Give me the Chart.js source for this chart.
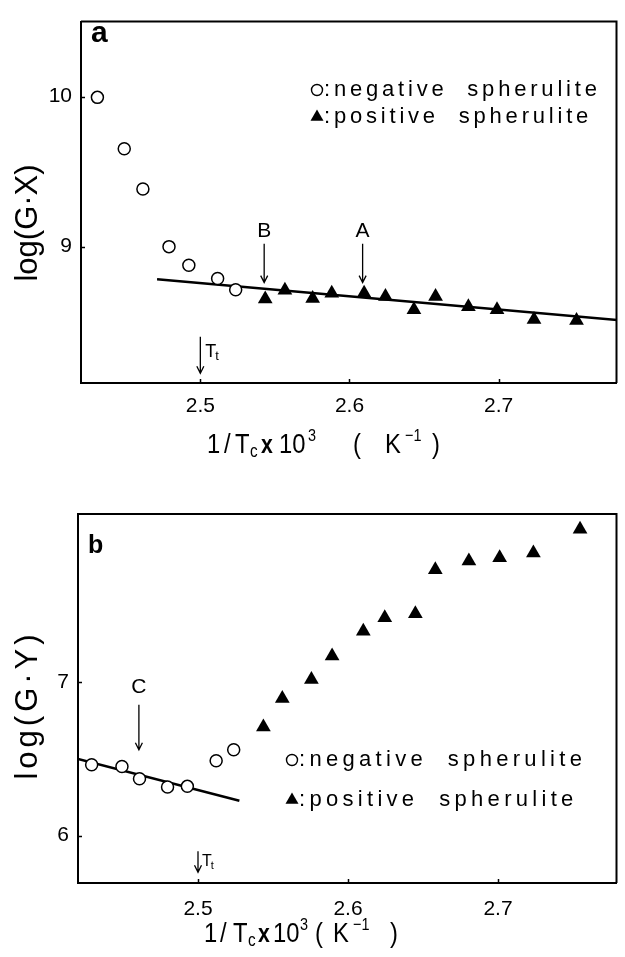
<!DOCTYPE html>
<html>
<head>
<meta charset="utf-8">
<script src="https://cdn.jsdelivr.net/npm/chart.js@4.4.0/dist/chart.umd.min.js"></script>
<style>
  html, body { margin: 0; padding: 0; background: #fff; }
  #wrap { position: relative; width: 625px; height: 957px; }
  canvas { position: absolute; left: 0; }
  #chartA { top: 0; }
  #chartB { top: 478px; }
</style>
</head>
<body>
<div id="wrap">
  <canvas id="chartA" width="625" height="478"></canvas>
  <canvas id="chartB" width="625" height="479"></canvas>
</div>
<script>
// shared x ticks (1/Tc x 10^3)
const xTicks = [2.5, 2.6, 2.7];

// panel a : log(G·X)
const negAx = [2.431, 2.449, 2.4615, 2.479, 2.4923, 2.5116, 2.5237];
const negAy = [9.995, 9.652, 9.384, 9.0, 8.876, 8.787, 8.713];
const posAx = [2.5435, 2.5567, 2.5753, 2.5881, 2.6098, 2.6241, 2.6432, 2.6577, 2.6797, 2.6989, 2.7237, 2.7522];
const posAy = [8.651, 8.71, 8.655, 8.69, 8.69, 8.668, 8.579, 8.668, 8.599, 8.579, 8.515, 8.508];
const fitAx = [2.471, 2.78];
const fitAy = [8.783, 8.51];
const yTicksA = [9, 10];

// panel b : log(G·Y)
const negBx = [2.4291, 2.4493, 2.461, 2.4797, 2.4929, 2.5121, 2.5238];
const negBy = [6.463, 6.452, 6.372, 6.318, 6.322, 6.489, 6.561];
const posBx = [2.5436, 2.5562, 2.5756, 2.5894, 2.6102, 2.6245, 2.6449, 2.6582, 2.6806, 2.7011, 2.7236, 2.7547];
const posBy = [6.71, 6.895, 7.019, 7.173, 7.334, 7.423, 7.449, 7.736, 7.793, 7.814, 7.845, 8.0];
const fitBx = [2.42, 2.5276];
const fitBy = [6.5, 6.228];
const yTicksB = [6, 7];

const FONT = "'Liberation Sans', Arial, sans-serif";

function pts(xs, ys) {
  return xs.map((x, i) => ({ x, y: ys[i] }));
}

function drawArrow(ctx, x, y1, y2) {
  ctx.beginPath();
  ctx.moveTo(x, y1);
  ctx.lineTo(x, y2);
  ctx.moveTo(x - 3.5, y2 - 7);
  ctx.lineTo(x, y2);
  ctx.lineTo(x + 3.5, y2 - 7);
  ctx.stroke();
}

function drawMarker(ctx, kind, x, y) {
  ctx.beginPath();
  if (kind === "circle") {
    ctx.arc(x, y, 5.5, 0, Math.PI * 2);
    ctx.fillStyle = "#fff";
    ctx.fill();
    ctx.lineWidth = 1.4;
    ctx.stroke();
  } else {
    const r = 7.5;
    ctx.moveTo(x, y - r);
    ctx.lineTo(x + r * 0.866, y + r / 2);
    ctx.lineTo(x - r * 0.866, y + r / 2);
    ctx.closePath();
    ctx.fillStyle = "#000";
    ctx.fill();
  }
}

// draw the x title piece by piece (sub/superscripts), slightly condensed
function drawXTitle(ctx, x0, base, pieces) {
  pieces.forEach(([txt, dx, size, dy, bold]) => {
    ctx.save();
    ctx.translate(x0 + dx, base + dy);
    ctx.scale(0.85, 1);
    ctx.font = (bold ? "bold " : "") + size + "px " + FONT;
    ctx.letterSpacing = "0px";
    ctx.textAlign = "left";
    ctx.textBaseline = "alphabetic";
    ctx.fillText(txt, 0, 0);
    ctx.restore();
  });
}

const decor = {
  id: "decor",
  afterDraw(chart, args, o) {
    const ctx = chart.ctx;
    const { left, right, top, bottom } = chart.chartArea;
    const xs = chart.scales.x, ys = chart.scales.y;
    ctx.save();
    ctx.strokeStyle = "#000";
    ctx.fillStyle = "#000";

    // frame top / right
    ctx.lineWidth = 2;
    ctx.beginPath();
    ctx.moveTo(left, top);
    ctx.lineTo(right, top);
    ctx.lineTo(right, bottom);
    ctx.stroke();

    // inward ticks
    ctx.lineWidth = 1.5;
    ctx.beginPath();
    xTicks.forEach(v => {
      const px = Math.round(xs.getPixelForValue(v)) + 0.5;
      ctx.moveTo(px, bottom);
      ctx.lineTo(px, bottom - 4);
    });
    o.yTicks.forEach(v => {
      const py = Math.round(ys.getPixelForValue(v)) + 0.5;
      ctx.moveTo(left, py);
      ctx.lineTo(left + 4, py);
    });
    ctx.stroke();

    // panel letter
    ctx.font = o.letterFont;
    ctx.textAlign = "left";
    ctx.textBaseline = "alphabetic";
    ctx.fillText(o.letter, o.letterPos[0], o.letterPos[1]);

    // y title
    ctx.save();
    ctx.translate(o.yTitlePos[0], o.yTitlePos[1]);
    ctx.rotate(-Math.PI / 2);
    ctx.font = "31px " + FONT;
    ctx.letterSpacing = o.yTitleSpacing + "px";
    ctx.textAlign = "center";
    ctx.textBaseline = "middle";
    ctx.fillText(o.yTitle, 0, 0);
    ctx.restore();

    // x title
    drawXTitle(ctx, o.xTitlePos[0], o.xTitlePos[1], o.xTitlePieces);

    // arrows with labels
    ctx.lineWidth = 1.3;
    o.arrows.forEach(a => {
      const px = xs.getPixelForValue(a.x);
      const y1 = ys.getPixelForValue(a.y1);
      const y2 = ys.getPixelForValue(a.y2);
      drawArrow(ctx, px, y1, y2);
      if (a.label === "Tt") {
        ctx.font = a.size + "px " + FONT;
        ctx.textAlign = "left";
        ctx.fillText("T", px + a.dx, y1 + a.dy);
        const w = ctx.measureText("T").width;
        ctx.font = Math.round(a.size * 0.7) + "px " + FONT;
        ctx.fillText("t", px + a.dx + w - 1, y1 + a.dy + 3);
      } else {
        ctx.font = a.size + "px " + FONT;
        ctx.textAlign = "center";
        ctx.fillText(a.label, px, y1 + a.dy);
      }
    });

    // legend
    ctx.font = "22px " + FONT;
    ctx.letterSpacing = o.legend.spacing + "px";
    ctx.textAlign = "left";
    o.legend.rows.forEach((row, i) => {
      const y = o.legend.y + i * o.legend.dy;
      drawMarker(ctx, row.kind, o.legend.x, y);
      ctx.fillStyle = "#000";
      ctx.fillText(row.text, o.legend.x + 7, y + 6);
    });
    ctx.letterSpacing = "0px";
    ctx.restore();
  }
};

function makePanel(canvas, cfg) {
  return new Chart(canvas, {
    type: "scatter",
    data: {
      datasets: [
        {
          type: "line",
          data: cfg.fit,
          borderColor: "#000",
          borderWidth: 2.5,
          pointRadius: 0,
          fill: false,
          order: 3
        },
        {
          data: cfg.neg,
          pointStyle: "circle",
          pointRadius: 6,
          pointBorderWidth: 1.5,
          pointBorderColor: "#000",
          pointBackgroundColor: "#fff",
          order: 2
        },
        {
          data: cfg.pos,
          pointStyle: "triangle",
          pointRadius: 8.5,
          pointBorderWidth: 0,
          pointBorderColor: "#000",
          pointBackgroundColor: "#000",
          order: 1
        }
      ]
    },
    options: {
      responsive: false,
      animation: false,
      devicePixelRatio: 1,
      layout: { padding: { left: 0, top: cfg.padTop, right: cfg.padRight, bottom: 0 } },
      plugins: { legend: { display: false }, tooltip: { enabled: false }, decor: cfg.decor },
      scales: {
        x: {
          type: "linear",
          min: 2.42,
          max: 2.779,
          grid: { display: false, drawTicks: false },
          border: { display: true, color: "#000", width: 2 },
          afterBuildTicks: s => { s.ticks = xTicks.map(v => ({ value: v })); },
          afterFit: s => { s.height = cfg.xHeight; },
          ticks: {
            color: "#000",
            padding: cfg.xPad,
            font: { family: FONT, size: 21 },
            callback: v => v.toFixed(1)
          }
        },
        y: {
          type: "linear",
          min: cfg.yMin,
          max: cfg.yMax,
          grid: { display: false, drawTicks: false },
          border: { display: true, color: "#000", width: 2 },
          afterBuildTicks: s => { s.ticks = cfg.yTicks.map(v => ({ value: v })); },
          afterFit: s => { s.width = cfg.yWidth; },
          ticks: {
            color: "#000",
            padding: 9,
            font: { family: FONT, size: 21 },
            callback: v => String(v)
          }
        }
      }
    },
    plugins: [decor]
  });
}

makePanel(document.getElementById("chartA"), {
  neg: pts(negAx, negAy),
  pos: pts(posAx, posAy),
  fit: pts(fitAx, fitAy),
  yMin: 8.091, yMax: 10.5, yTicks: yTicksA,
  padTop: 13, padRight: 1, yWidth: 81, xHeight: 95, xPad: 11,
  decor: {
    yTicks: yTicksA,
    letter: "a", letterFont: "bold 30px " + FONT, letterPos: [91, 42],
    yTitle: "log(G·X)", yTitlePos: [28, 223], yTitleSpacing: 0,
    xTitlePos: [207, 453],
    xTitlePieces: [["1", 0, 28, 0], ["/", 17, 28, 0], ["T", 28, 28, 0], ["c", 43, 18, 4],
      ["x", 54, 25, 0, true], ["10", 72, 28, 0], ["3", 101, 17, -12],
      ["(", 146, 28, 0], ["K", 178, 28, 0], ["\u22121", 198, 17, -12], [")", 225, 28, 0]],
    arrows: [
      { label: "B", x: 2.5428, y1: 9.02, y2: 8.76, dy: -7, size: 21 },
      { label: "A", x: 2.6088, y1: 9.02, y2: 8.76, dy: -7, size: 21 },
      { label: "Tt", x: 2.5, y1: 8.40, y2: 8.156, dx: 5, dy: 20, size: 18 }
    ],
    legend: {
      x: 317, y: 90, dy: 27, spacing: 3.8,
      rows: [
        { kind: "circle", text: ":negative  spherulite" },
        { kind: "triangle", text: ":positive  spherulite" }
      ]
    }
  }
});

makePanel(document.getElementById("chartB"), {
  neg: pts(negBx, negBy),
  pos: pts(posBx, posBy),
  fit: pts(fitBx, fitBy),
  yMin: 5.691, yMax: 8.1, yTicks: yTicksB,
  padTop: 36, padRight: 2, yWidth: 78, xHeight: 74, xPad: 14,
  decor: {
    yTicks: yTicksB,
    letter: "b", letterFont: "bold 25px " + FONT, letterPos: [88, 75],
    yTitle: "log(G·Y)", yTitlePos: [28, 227], yTitleSpacing: 4,
    xTitlePos: [203, 464],
    xTitlePieces: [["1", 1, 28, 0], ["/", 17, 28, 0], ["T", 30, 28, 0], ["c", 45, 18, 4],
      ["x", 55, 25, 0, true], ["10", 70, 28, 0], ["3", 97, 17, -12],
      ["(", 112, 28, 0], ["K", 130, 28, 0], ["\u22121", 150, 17, -12], [")", 187, 28, 0]],
    arrows: [
      { label: "C", x: 2.4606, y1: 6.855, y2: 6.561, dy: -12, size: 21 },
      { label: "Tt", x: 2.5, y1: 5.898, y2: 5.761, dx: 4, dy: 15, size: 16 }
    ],
    legend: {
      x: 292, y: 282, dy: 40, spacing: 4.3,
      rows: [
        { kind: "circle", text: ":negative  spherulite" },
        { kind: "triangle", text: ":positive  spherulite" }
      ]
    }
  }
});
</script>
</body>
</html>
